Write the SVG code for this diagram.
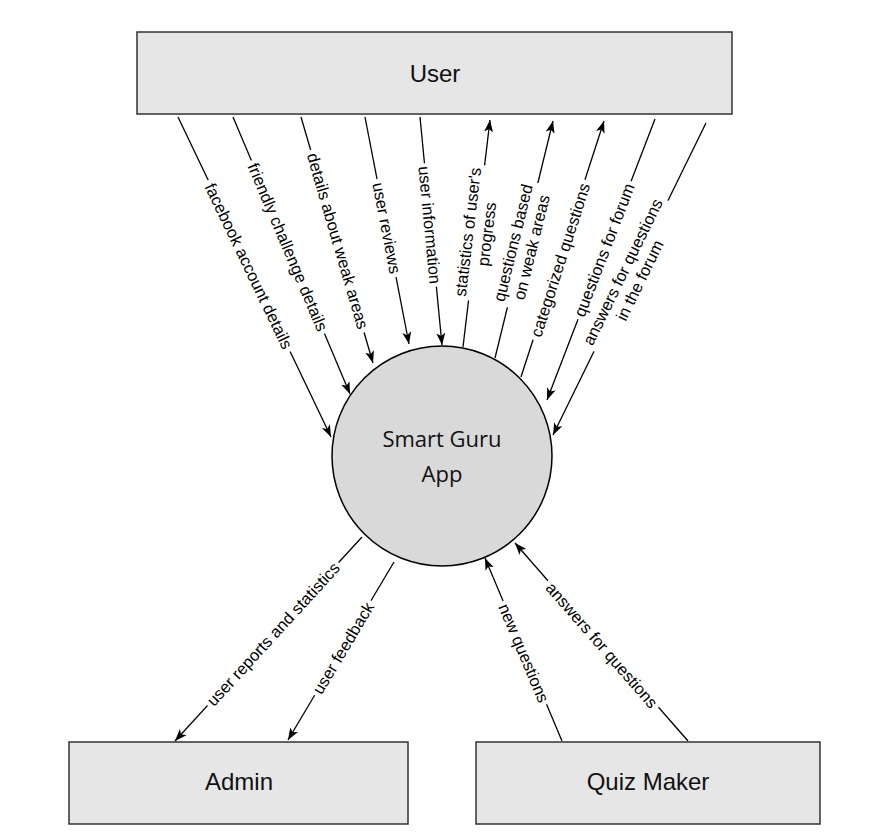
<svg xmlns="http://www.w3.org/2000/svg" width="885" height="834" viewBox="0 0 885 834">
<style>
.box{fill:#e6e6e6;stroke:#333;stroke-width:1.5}
.boxt{font-family:"Liberation Sans",Arial,sans-serif;font-size:24px;text-anchor:middle;fill:#111}
.proc{fill:#d9d9d9;stroke:#000;stroke-width:1.5}
.proct{font-family:"Open Sans","Noto Sans",sans-serif;font-size:22px;text-anchor:middle;fill:#111}
.conn{stroke:#000;stroke-width:1.3;fill:none;marker-end:url(#arr)}
.lbl{font-family:"Liberation Sans",Arial,sans-serif;font-size:16.5px;text-anchor:middle;dominant-baseline:central;fill:#000}
.bg{fill:#fff}
</style>
<defs>
<marker id="arr" markerUnits="userSpaceOnUse" markerWidth="14" markerHeight="12" refX="12" refY="5" orient="auto">
<path d="M0,0.5 L12,5 L0,9.5 L3,5 Z" fill="#000"/>
</marker>
</defs>
<rect width="885" height="834" fill="#fff"/>
<g id="connectors">
<path class="conn" d="M178,117 L331,437"/>
<path class="conn" d="M233,117 L350,394"/>
<path class="conn" d="M301,117 L373,363"/>
<path class="conn" d="M365,117 L409,344"/>
<path class="conn" d="M420,117 L442,345"/>
<path class="conn" d="M463,347 L490,120"/>
<path class="conn" d="M495,358 L553,121"/>
<path class="conn" d="M521,377 L604,121"/>
<path class="conn" d="M655,119 L547,400"/>
<path class="conn" d="M706,123 L553,435"/>
<path class="conn" d="M362,537 L175,741"/>
<path class="conn" d="M394,562 L288,740"/>
<path class="conn" d="M562,741 L485,558"/>
<path class="conn" d="M688,741 L515,543"/>
<g transform="translate(249,266) rotate(64.4)"><rect class="bg" x="-95" y="-9" width="190" height="18"/><text class="lbl">facebook account details</text></g>
<g transform="translate(288,247) rotate(67.1)"><rect class="bg" x="-94" y="-9" width="188" height="18"/><text class="lbl">friendly challenge details</text></g>
<g transform="translate(338,241) rotate(73.7)"><rect class="bg" x="-95" y="-9" width="190" height="18"/><text class="lbl">details about weak areas</text></g>
<g transform="translate(387,228) rotate(79)"><rect class="bg" x="-50" y="-9" width="100" height="18"/><text class="lbl">user reviews</text></g>
<g transform="translate(430,225) rotate(84.5)"><rect class="bg" x="-62" y="-9" width="124" height="18"/><text class="lbl">user information</text></g>
<g transform="translate(477,233) rotate(-83.2)"><rect class="bg" x="-68" y="-19" width="136" height="38"/><text class="lbl" y="-9.5">statistics of user's</text><text class="lbl" y="9.5">progress</text></g>
<g transform="translate(522,245) rotate(-76.2)"><rect class="bg" x="-64" y="-19" width="128" height="38"/><text class="lbl" y="-9.5">questions based</text><text class="lbl" y="9.5">on weak areas</text></g>
<g transform="translate(560,260) rotate(-72.1)"><rect class="bg" x="-84" y="-9" width="168" height="18"/><text class="lbl">categorized questions</text></g>
<g transform="translate(604,250) rotate(-69)"><rect class="bg" x="-74" y="-9" width="148" height="18"/><text class="lbl">questions for forum</text></g>
<g transform="translate(631,276) rotate(-63.9)"><rect class="bg" x="-84" y="-19" width="168" height="38"/><text class="lbl" y="-9.5">answers for questions</text><text class="lbl" y="9.5">in the forum</text></g>
<g transform="translate(273,634) rotate(-47.5)"><rect class="bg" x="-97" y="-9" width="194" height="18"/><text class="lbl">user reports and statistics</text></g>
<g transform="translate(343,648) rotate(-59.2)"><rect class="bg" x="-55" y="-9" width="110" height="18"/><text class="lbl">user feedback</text></g>
<g transform="translate(524,653) rotate(67.2)"><rect class="bg" x="-56" y="-9" width="112" height="18"/><text class="lbl">new questions</text></g>
<g transform="translate(602,645) rotate(48.9)"><rect class="bg" x="-84" y="-9" width="168" height="18"/><text class="lbl">answers for questions</text></g>
</g>
<g id="user"><rect class="box" x="137" y="32" width="595" height="82"/><text class="boxt" x="435" y="82">User</text></g>
<g id="app"><circle class="proc" cx="442" cy="456" r="110"/><text class="proct" x="442" y="447">Smart Guru</text><text class="proct" x="442" y="482">App</text></g>
<g id="admin"><rect class="box" x="69" y="742" width="339" height="82"/><text class="boxt" x="239" y="790">Admin</text></g>
<g id="quizmaker"><rect class="box" x="476" y="742" width="344" height="82"/><text class="boxt" x="648" y="790">Quiz Maker</text></g>
</svg>
